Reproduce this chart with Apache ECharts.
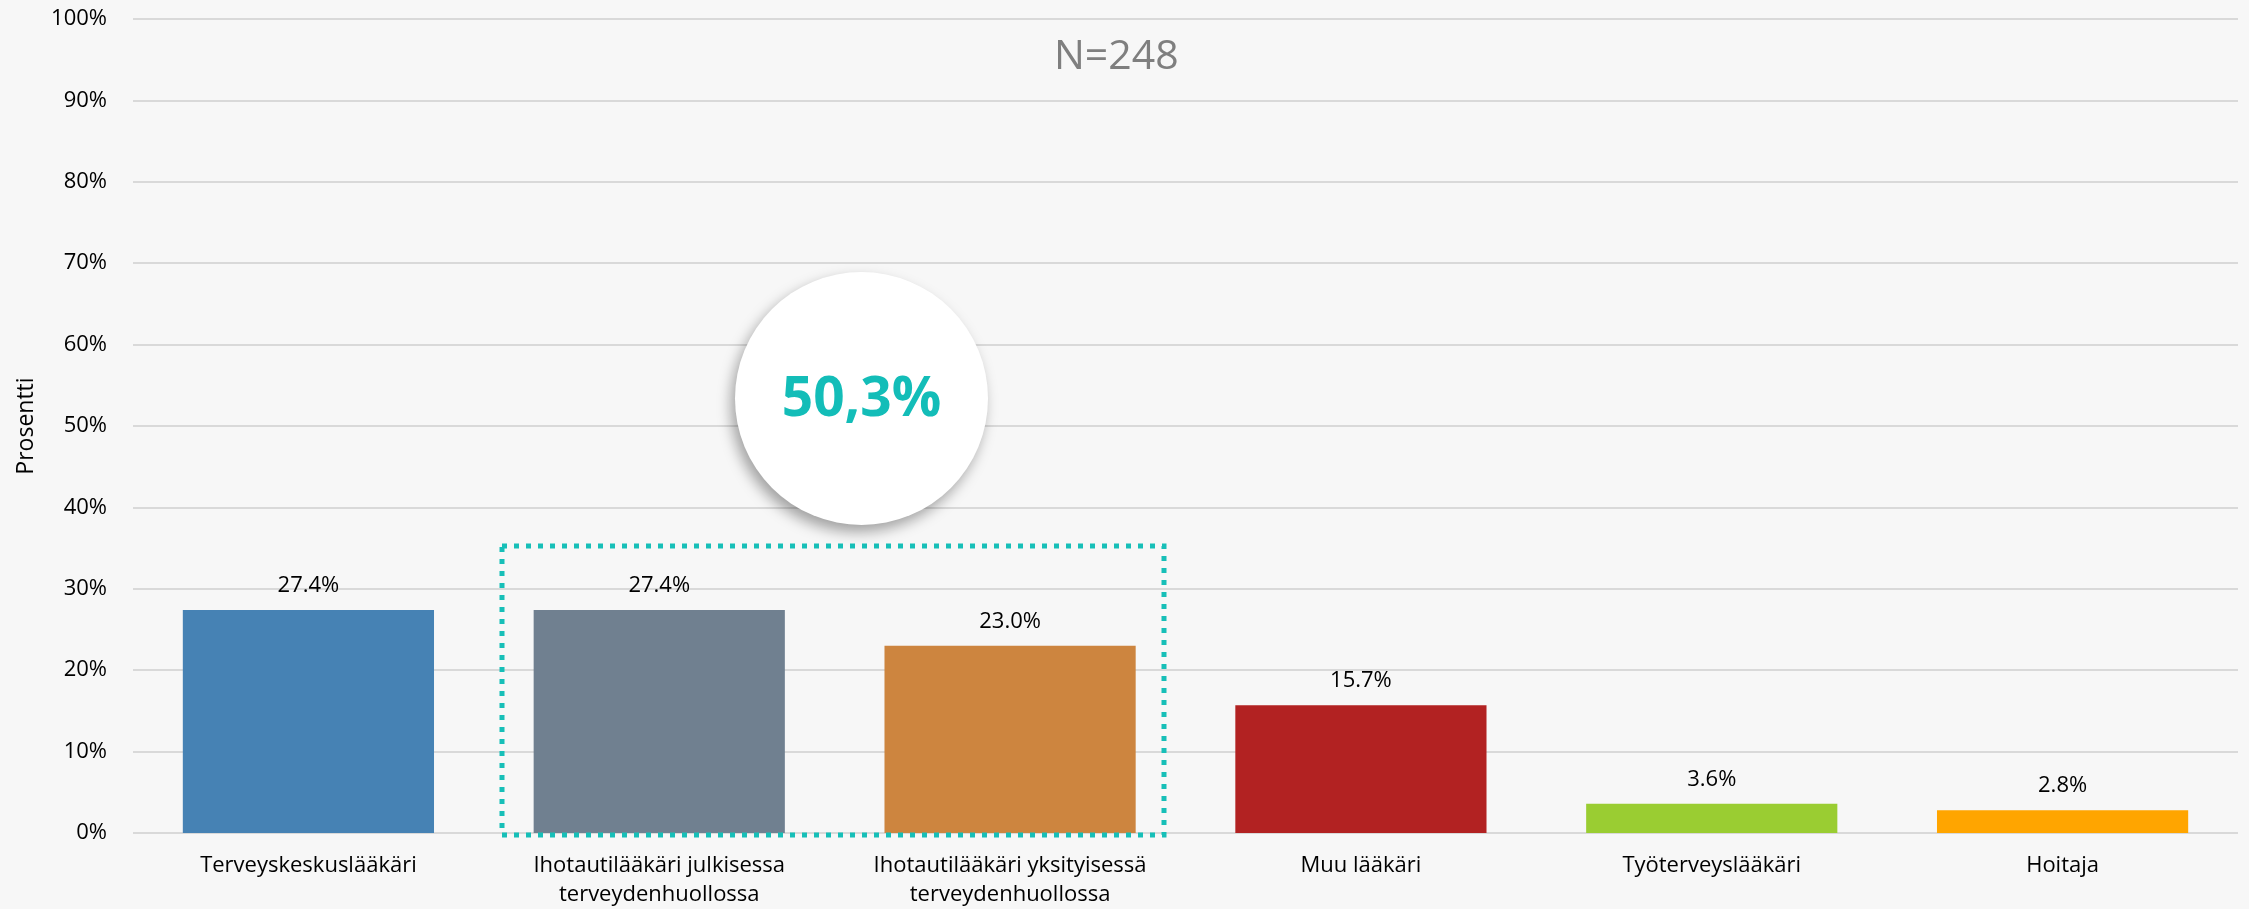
<!DOCTYPE html>
<html>
<head>
<meta charset="utf-8">
<script src="https://cdn.jsdelivr.net/npm/echarts@6/dist/echarts.min.js"></script>
<style>
html,body{margin:0;padding:0;background:#f7f7f7;}
#chart{width:2249px;height:909px;}
</style>
</head>
<body>
<div id="chart"></div>
<script>
const categories = [
  'Terveyskeskuslääkäri',
  'Ihotautilääkäri julkisessa\nterveydenhuollossa',
  'Ihotautilääkäri yksityisessä\nterveydenhuollossa',
  'Muu lääkäri',
  'Työterveyslääkäri',
  'Hoitaja'
];
const values = [27.4, 27.4, 23.0, 15.7, 3.6, 2.8];
const barColors = ['#4682b4', '#708090', '#cd853f', '#b22222', '#9acd32', '#ffa500'];
const yTicks = [0, 10, 20, 30, 40, 50, 60, 70, 80, 90, 100];
const titleText = 'N=248';
const highlightText = '50,3%';
const yAxisName = 'Prosentti';

const FONT = '"Open Sans", "Noto Sans", sans-serif';
const chart = echarts.init(document.getElementById('chart'));

const option = {
  backgroundColor: '#f7f7f7',
  animation: false,
  grid: { left: 133, right: 11, top: 19, bottom: 73, containLabel: false },
  xAxis: {
    type: 'category',
    data: categories,
    axisLine: { show: false },
    axisTick: { show: false },
    axisLabel: {
      interval: 0,
      margin: 18,
      color: '#000',
      fontFamily: FONT,
      fontSize: 22,
      lineHeight: 29
    }
  },
  yAxis: {
    type: 'value',
    min: yTicks[0],
    max: yTicks[yTicks.length - 1],
    interval: yTicks[1] - yTicks[0],
    name: yAxisName,
    nameLocation: 'middle',
    nameGap: 95,
    nameTextStyle: { color: '#000', fontFamily: FONT, fontSize: 23 },
    axisLine: { show: false },
    axisTick: { show: false },
    axisLabel: {
      margin: 26,
      color: '#000',
      fontFamily: FONT,
      fontSize: 22,
      formatter: '{value}%'
    },
    splitLine: { lineStyle: { color: '#d9d9d9', width: 2 } }
  },
  series: [{
    type: 'bar',
    data: values.map((v, i) => ({ value: v, itemStyle: { color: barColors[i] } })),
    barCategoryGap: '28.4%',
    label: {
      show: true,
      position: 'top',
      distance: 13,
      color: '#000',
      fontFamily: FONT,
      fontSize: 22,
      formatter: p => p.value.toFixed(1) + '%'
    }
  }],
  graphic: [
    {
      type: 'text',
      left: 1116 - 62,
      top: 37,
      style: { text: titleText, fill: '#7f7f7f', font: '41px ' + FONT }
    },
    {
      type: 'rect',
      shape: { x: 502, y: 546, width: 662, height: 289 },
      style: { fill: 'none', stroke: '#17bfb8', lineWidth: 5, lineDash: [5, 7] },
      z: 10
    },
    {
      type: 'circle',
      shape: { cx: 861.5, cy: 398.5, r: 126.5 },
      style: {
        fill: '#ffffff',
        shadowBlur: 14,
        shadowOffsetX: -4,
        shadowOffsetY: 7,
        shadowColor: 'rgba(0,0,0,0.35)'
      },
      z: 20
    },
    {
      type: 'text',
      x: 861.5,
      y: 400,
      style: {
        text: highlightText,
        fill: '#13bdb8',
        font: 'bold 55px ' + FONT,
        textAlign: 'center',
        textVerticalAlign: 'middle'
      },
      z: 21
    }
  ]
};
chart.setOption(option);
</script>
</body>
</html>
